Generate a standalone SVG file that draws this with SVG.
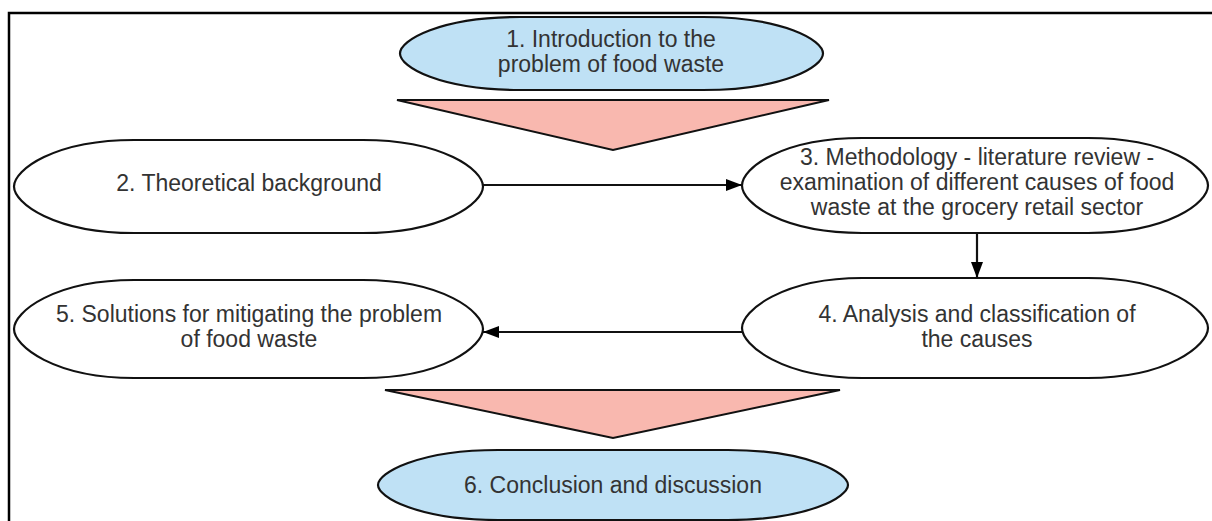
<svg xmlns="http://www.w3.org/2000/svg" width="1212" height="521" viewBox="0 0 1212 521">
<defs>
<style>
.frame{fill:none;stroke:#000;stroke-width:2.5}
.node{stroke:#111;stroke-width:2.2}
.white{fill:#fff}
.blue{fill:#bfe1f5}
.tri{fill:#f9b8af;stroke:#111;stroke-width:2}
.conn{stroke:#111;stroke-width:2.2;fill:none}
text{font-family:"Liberation Sans",Arial,sans-serif;font-size:23px;fill:#333;text-anchor:middle}
</style>
<marker id="ah" viewBox="0 0 16 12" refX="16" refY="6" markerWidth="16" markerHeight="12" markerUnits="userSpaceOnUse" orient="auto">
<path d="M0,0 L16,6 L0,12 Z" fill="#000"/>
</marker>
</defs>
<rect width="1212" height="521" fill="#fff"/>
<path class="frame" d="M9,521 V13 H1212"/>

<g id="arrow-shapes">
<polygon class="tri" points="397,100 829,100 613,150"/>
<polygon class="tri" points="385,390 840,390 613,438"/>
</g>

<g id="node1">
<path class="node blue" d="M520,17 H703 C783,17 823,40 823,53.5 C823,67 783,90 703,90 H520 C440,90 400,67 400,53.5 C400,40 440,17 520,17 Z"/>
<text x="611" y="47">1. Introduction to the</text>
<text x="611" y="72">problem of food waste</text>
</g>

<g id="node2">
<path class="node white" d="M134,140 H363 C443,140 483,170 483,186.5 C483,203 443,233 363,233 H134 C54,233 14,203 14,186.5 C14,170 54,140 134,140 Z"/>
<text x="249" y="191">2. Theoretical background</text>
</g>

<g id="node3">
<path class="node white" d="M862,138 H1088 C1168,138 1208,168 1208,185.5 C1208,203 1168,233 1088,233 H862 C782,233 742,203 742,185.5 C742,168 782,138 862,138 Z"/>
<text x="977" y="165">3. Methodology - literature review -</text>
<text x="977" y="190">examination of different causes of food</text>
<text x="977" y="215">waste at the grocery retail sector</text>
</g>

<g id="node4">
<path class="node white" d="M862,278 H1088 C1168,278 1208,311 1208,328 C1208,345 1168,378 1088,378 H862 C782,378 742,345 742,328 C742,311 782,278 862,278 Z"/>
<text x="977" y="322">4. Analysis and classification of</text>
<text x="977" y="347">the causes</text>
</g>

<g id="node5">
<path class="node white" d="M134,280 H363 C443,280 483,312 483,329 C483,346 443,378 363,378 H134 C54,378 14,346 14,329 C14,312 54,280 134,280 Z"/>
<text x="249" y="322">5. Solutions for mitigating the problem</text>
<text x="249" y="347">of food waste</text>
</g>

<g id="node6">
<path class="node blue" d="M498,450 H728 C808,450 848,473 848,485 C848,497 808,520 728,520 H498 C418,520 378,497 378,485 C378,473 418,450 498,450 Z"/>
<text x="613" y="493">6. Conclusion and discussion</text>
</g>

<g id="connectors">
<line class="conn" x1="483" y1="185" x2="742" y2="185" marker-end="url(#ah)"/>
<line class="conn" x1="977" y1="233" x2="977" y2="278" marker-end="url(#ah)"/>
<line class="conn" x1="742" y1="332" x2="483" y2="332" marker-end="url(#ah)"/>
</g>
</svg>
